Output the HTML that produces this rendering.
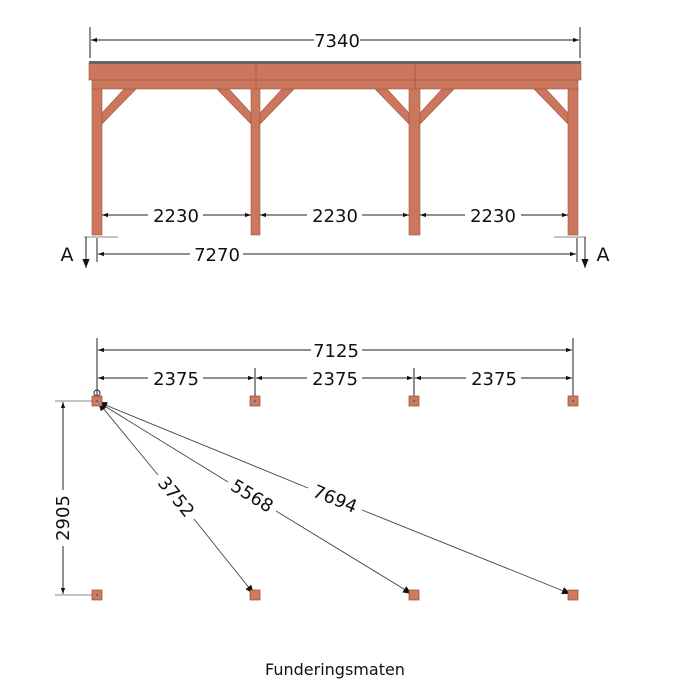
<!DOCTYPE html>
<html><head><meta charset="utf-8"><style>
html,body{margin:0;padding:0;background:#fff;width:700px;height:700px;overflow:hidden}
svg{display:block}
text{font-family:"DejaVu Sans","Liberation Sans",sans-serif;fill:#111}
</style></head><body>
<svg width="700" height="700" viewBox="0 0 700 700" xmlns="http://www.w3.org/2000/svg">
<defs>
<marker id="ah" viewBox="0 0 10 10" refX="10" refY="5" markerWidth="8" markerHeight="6" orient="auto-start-reverse" markerUnits="userSpaceOnUse"><path d="M0,1.5 L10,5 L0,8.5z" fill="#111"/></marker>
<marker id="ah2" viewBox="0 0 10 10" refX="10" refY="5" markerWidth="12" markerHeight="9" orient="auto-start-reverse" markerUnits="userSpaceOnUse"><path d="M0,1 L10,5 L0,9z" fill="#111"/></marker>
</defs>
<g stroke="#222" stroke-width="1" fill="none">
<line x1="90" y1="27" x2="90" y2="58"/><line x1="580" y1="27" x2="580" y2="58"/>
<line x1="91" y1="40" x2="314" y2="40" marker-start="url(#ah)"/>
<line x1="360" y1="40" x2="579" y2="40" marker-end="url(#ah)"/>
</g>
<text x="337" y="47" font-size="18" text-anchor="middle">7340</text>
<g fill="#cb775d" stroke="#a05540" stroke-width="0.6">
<g>
<polygon points="102,113 102,124 136,89 124,89"/>
<polygon points="251,113 251,124 217,89 229,89"/>
<polygon points="260,113 260,124 294,89 282,89"/>
<polygon points="409,113 409,124 375,89 387,89"/>
<polygon points="420,113 420,124 454,89 442,89"/>
<polygon points="568,113 568,124 534,89 546,89"/>
</g>
<rect x="92" y="88" width="10" height="147"/>
<rect x="251" y="88" width="9" height="147"/>
<rect x="409" y="88" width="11" height="147"/>
<rect x="568" y="88" width="10" height="147"/>
<rect x="92" y="80" width="486" height="9"/>
<rect x="89" y="63" width="492" height="17"/>
</g>
<rect x="89" y="61" width="492" height="3" fill="#666"/>
<line x1="256" y1="64" x2="256" y2="89" stroke="#a05540" stroke-width="0.8"/>
<line x1="415" y1="64" x2="415" y2="89" stroke="#a05540" stroke-width="0.8"/>
<g stroke="#222" stroke-width="1" fill="none">
<line x1="102" y1="215" x2="148" y2="215" marker-start="url(#ah)"/><line x1="203" y1="215" x2="251" y2="215" marker-end="url(#ah)"/>
<line x1="260" y1="215" x2="307" y2="215" marker-start="url(#ah)"/><line x1="362" y1="215" x2="409" y2="215" marker-end="url(#ah)"/>
<line x1="420" y1="215" x2="465" y2="215" marker-start="url(#ah)"/><line x1="521" y1="215" x2="568" y2="215" marker-end="url(#ah)"/>
<line x1="84" y1="237" x2="118" y2="237" stroke="#888"/><line x1="554" y1="237" x2="586" y2="237" stroke="#888"/>
<line x1="97" y1="238" x2="97" y2="262"/><line x1="577" y1="238" x2="577" y2="262"/>
<line x1="98" y1="254" x2="190" y2="254" marker-start="url(#ah)"/><line x1="243" y1="254" x2="576" y2="254" marker-end="url(#ah)"/>
<line x1="86" y1="237" x2="86" y2="268" marker-end="url(#ah2)"/>
<line x1="585" y1="237" x2="585" y2="268" marker-end="url(#ah2)"/>
</g>
<g font-size="18" text-anchor="middle">
<text x="176" y="222">2230</text><text x="335" y="222">2230</text><text x="493" y="222">2230</text>
<text x="217" y="261">7270</text>
<text x="67" y="261" font-size="19">A</text><text x="603" y="261" font-size="19">A</text>
</g>
<g stroke="#222" stroke-width="1" fill="none">
<line x1="97" y1="338" x2="97" y2="398"/><line x1="573" y1="338" x2="573" y2="398"/>
<line x1="255" y1="368" x2="255" y2="398"/><line x1="414" y1="368" x2="414" y2="398"/>
<line x1="98" y1="350" x2="311" y2="350" marker-start="url(#ah)"/><line x1="362" y1="350" x2="572" y2="350" marker-end="url(#ah)"/>
<line x1="98" y1="378" x2="148" y2="378" marker-start="url(#ah)"/><line x1="203" y1="378" x2="254" y2="378" marker-end="url(#ah)"/>
<line x1="256" y1="378" x2="307" y2="378" marker-start="url(#ah)"/><line x1="362" y1="378" x2="413" y2="378" marker-end="url(#ah)"/>
<line x1="415" y1="378" x2="466" y2="378" marker-start="url(#ah)"/><line x1="521" y1="378" x2="572" y2="378" marker-end="url(#ah)"/>
<line x1="55" y1="401" x2="95" y2="401" stroke="#888"/><line x1="55" y1="595" x2="95" y2="595" stroke="#888"/>
<line x1="63" y1="402" x2="63" y2="490" marker-start="url(#ah)"/><line x1="63" y1="546" x2="63" y2="594" marker-end="url(#ah)"/>
<circle cx="97" cy="393" r="3"/>
<g stroke="#444" stroke-width="0.9">
<line x1="98" y1="402" x2="158" y2="475" marker-start="url(#ah2)"/><line x1="194" y1="519" x2="254" y2="594" marker-end="url(#ah2)"/>
<line x1="98" y1="402" x2="228" y2="482" marker-start="url(#ah2)"/><line x1="276" y1="511" x2="412" y2="594" marker-end="url(#ah2)"/>
<line x1="98" y1="402" x2="308" y2="488" marker-start="url(#ah2)"/><line x1="362" y1="510" x2="571" y2="594" marker-end="url(#ah2)"/>
</g>
</g>
<g fill="#d0795c" stroke="#8e4a36" stroke-width="0.7">
<rect x="92" y="396" width="10" height="10"/><rect x="250" y="396" width="10" height="10"/><rect x="409" y="396" width="10" height="10"/><rect x="568" y="396" width="10" height="10"/>
<rect x="92" y="590" width="10" height="10"/><rect x="250" y="590" width="10" height="10"/><rect x="409" y="590" width="10" height="10"/><rect x="568" y="590" width="10" height="10"/>
</g>
<g fill="#666"><circle cx="97" cy="401" r="1.2"/><circle cx="255" cy="401" r="1.2"/><circle cx="414" cy="401" r="1.2"/><circle cx="573" cy="401" r="1.2"/><circle cx="97" cy="595" r="1.2"/></g>
<g font-size="18" text-anchor="middle">
<text x="336" y="357">7125</text>
<text x="176" y="385">2375</text><text x="335" y="385">2375</text><text x="494" y="385">2375</text>
<text transform="translate(69,518) rotate(-90)">2905</text>
<text transform="translate(176,497) rotate(50.7) translate(0,6)">3752</text>
<text transform="translate(252,496) rotate(31.4) translate(0,6)">5568</text>
<text transform="translate(335,499) rotate(22.1) translate(0,6)">7694</text>
<text x="335" y="675" font-size="16">Funderingsmaten</text>
</g>
</svg>
</body></html>
